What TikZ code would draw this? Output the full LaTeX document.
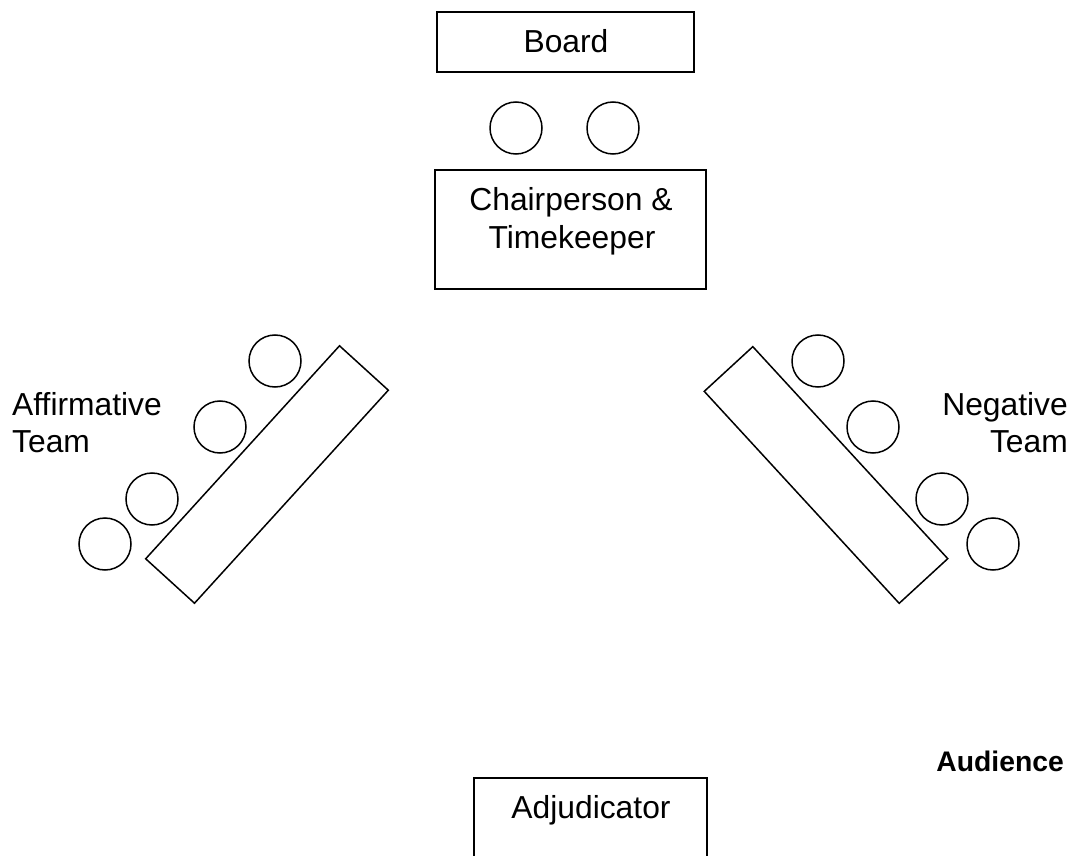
\documentclass[tikz,border=0pt]{standalone}
\usepackage{fontspec}
\setmainfont{Liberation Sans}
\begin{document}
\begin{tikzpicture}[x=1pt,y=-1pt,
  box/.style={draw=black, line width=1.5pt, fill=white, inner sep=0pt, rectangle},
  seat/.style={draw=black, line width=1.5pt, circle, inner sep=0pt, minimum size=52pt},
  lbl/.style={inner sep=0pt, font=\fontsize{31.8}{37}\selectfont},
  blbl/.style={inner sep=0pt, font=\fontsize{28.3}{33}\selectfont\bfseries}]
\path[use as bounding box] (0,0) rectangle (1072,856);
\clip (0,0) rectangle (1072,856);
% board
\node[box, minimum width=257pt, minimum height=60pt] (board) at (565.5,42) {};
\node[lbl, anchor=base] (boardtxt) at (566,53) {Board};
% chair seats
\node[seat] (cs1) at (516,128) {};
\node[seat] (cs2) at (613,128) {};
% chair table
\node[box, minimum width=271pt, minimum height=119pt] (chair) at (570.5,229.5) {};
\node[lbl, anchor=base] (chairtxt1) at (571,211) {Chairperson \&};
\node[lbl, anchor=base] (chairtxt2) at (572,248) {Timekeeper};
% affirmative table
\node[box, minimum width=288pt, minimum height=66pt, rotate=47.7] (afftable) at (267,474.5) {};
\node[seat] (a1) at (275,361) {};
\node[seat] (a2) at (220,427) {};
\node[seat] (a3) at (152,499) {};
\node[seat] (a4) at (105,544) {};
\node[lbl, anchor=base west] (afftxt1) at (12,415) {Affirmative};
\node[lbl, anchor=base west] (afftxt2) at (12,452) {Team};
% negative table
\node[box, minimum width=288pt, minimum height=66pt, rotate=-47.4] (negtable) at (826,475) {};
\node[seat] (n1) at (818,361) {};
\node[seat] (n2) at (873,427) {};
\node[seat] (n3) at (942,499) {};
\node[seat] (n4) at (993,544) {};
\node[lbl, anchor=base east] (negtxt1) at (1068,415) {Negative};
\node[lbl, anchor=base east] (negtxt2) at (1068,452) {Team};
% audience
\node[blbl, anchor=base east] (aud) at (1064,771) {Audience};
% adjudicator
\node[box, minimum width=233pt, minimum height=140pt, anchor=north] (adj) at (590.5,777) {};
\node[lbl, anchor=base] (adjtxt) at (591,818) {Adjudicator};
\end{tikzpicture}
\end{document}
